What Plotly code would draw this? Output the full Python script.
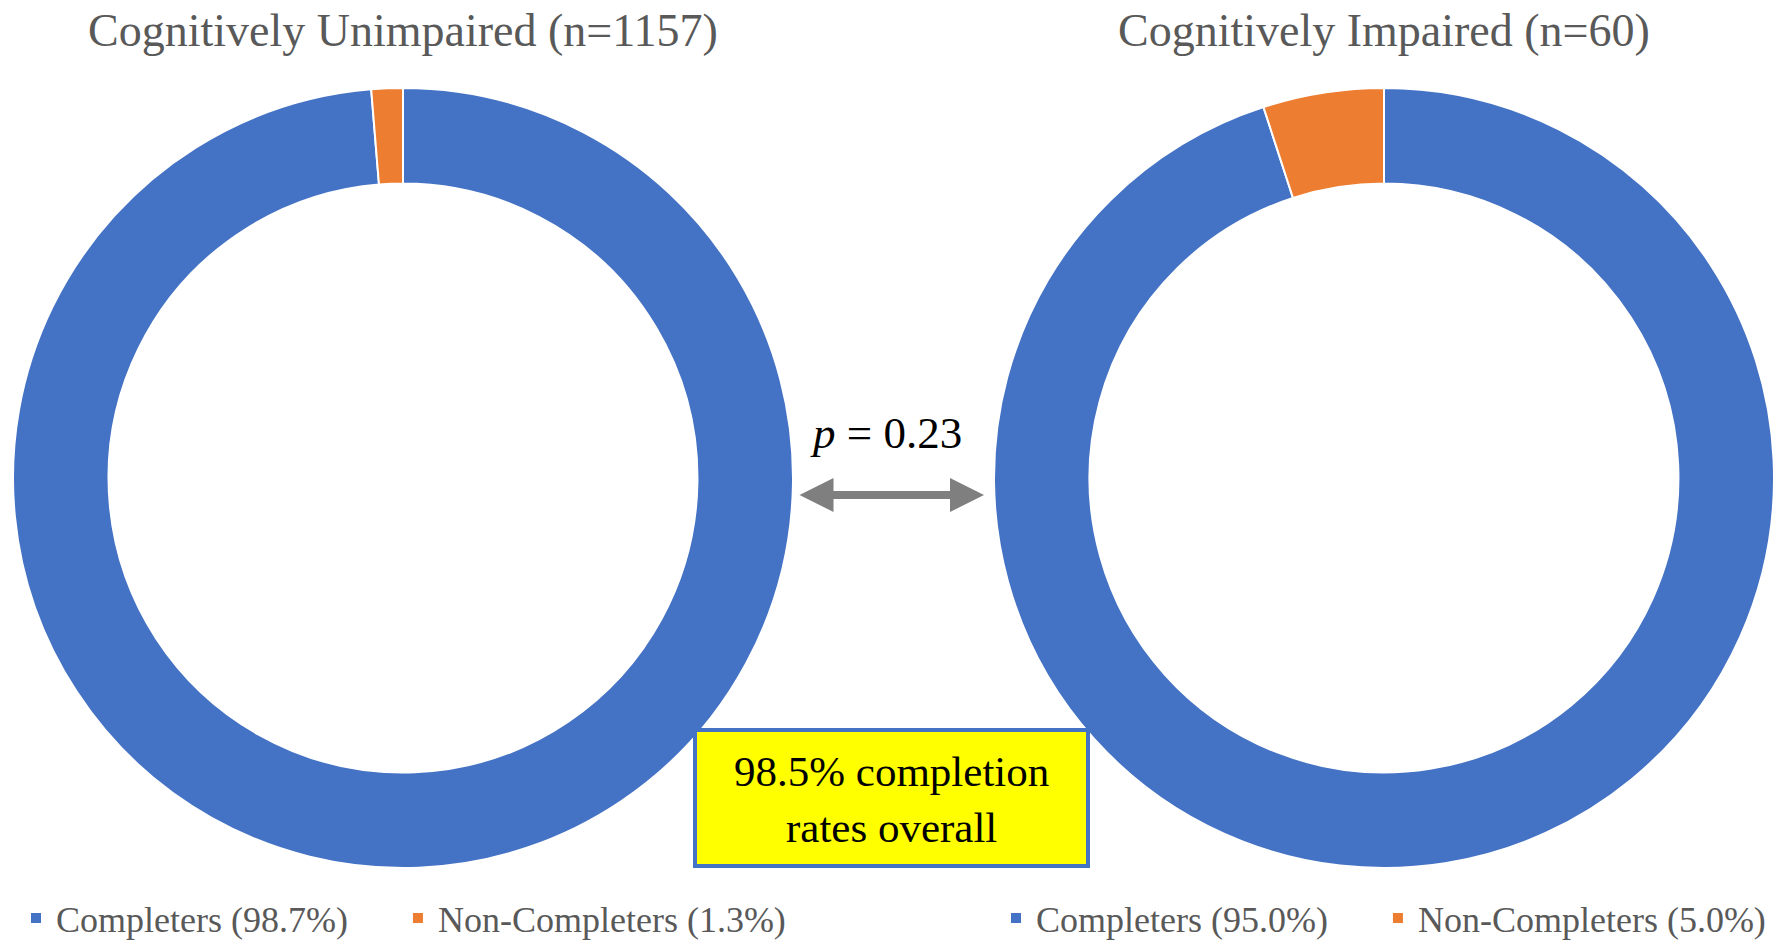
import plotly.graph_objects as go

W, H = 1777, 944

# ---- data ----
groups = ["Cognitively Unimpaired (n=1157)", "Cognitively Impaired (n=60)"]
categories = ["Completers", "Non-Completers"]
unimpaired_pct = [98.7, 1.3]
impaired_pct = [95.0, 5.0]
colors = ["#4472C4", "#ED7D31"]
p_value_text = "<i>p</i> = 0.23"
overall_text = "98.5% completion<br>rates overall"

def px_x(x):
    return x / W

def px_y(y):
    return 1 - y / H

NB = "\u00a0"

def labels_for(vals):
    out = []
    for k, (c, v) in enumerate(zip(categories, vals)):
        lab = f"{c} ({v:.1f}%)"
        if k == 0:
            lab += NB * 5  # spacing between legend entries
        out.append(lab)
    return out

R = 390
centers = [(403, 478), (1384, 478)]

def dom(cx, cy):
    return dict(x=[px_x(cx - R), px_x(cx + R)], y=[px_y(cy + R), px_y(cy - R)])

fig = go.Figure()
for i, (vals, leg) in enumerate([(unimpaired_pct, "legend"), (impaired_pct, "legend2")]):
    fig.add_trace(go.Pie(
        labels=labels_for(vals), values=vals, hole=0.755, sort=False,
        direction="clockwise", rotation=0, textinfo="none",
        marker=dict(colors=colors, line=dict(color="white", width=2)),
        domain=dom(*centers[i]), legend=leg, showlegend=True,
    ))

legfont = dict(family="Liberation Serif, Times New Roman, serif", size=36, color="#595959")
common_leg = dict(orientation="h", xanchor="left", yanchor="middle", font=legfont,
                  bgcolor="rgba(0,0,0,0)",
                  itemclick=False, itemdoubleclick=False, traceorder="normal")

fig.update_layout(
    width=W, height=H, margin=dict(l=0, r=0, t=0, b=0, autoexpand=False),
    paper_bgcolor="white", plot_bgcolor="white",
    legend=dict(x=px_x(16), y=px_y(918), **common_leg),
    legend2=dict(x=px_x(996), y=px_y(918), **common_leg),
)

titlefont = dict(family="Liberation Serif, Times New Roman, serif", size=46, color="#595959")
for g, (cx, cy) in zip(groups, centers):
    fig.add_annotation(x=px_x(cx), y=px_y(31), xref="paper", yref="paper",
                       text=g, showarrow=False, font=titlefont,
                       xanchor="center", yanchor="middle")

# p-value
fig.add_annotation(x=px_x(886), y=px_y(433), xref="paper", yref="paper",
                   text=p_value_text, showarrow=False,
                   font=dict(family="Liberation Serif, Times New Roman, serif", size=45, color="black"),
                   xanchor="center", yanchor="middle")

# double arrow
fig.add_annotation(x=px_x(984), y=px_y(495), xref="paper", yref="paper",
                   ax=-186, ay=0, axref="pixel", ayref="pixel",
                   text="", showarrow=True, arrowhead=2, arrowside="end+start",
                   arrowsize=0.85, arrowwidth=8, arrowcolor="#7F7F7F", standoff=0, startstandoff=0)

# yellow box
fig.add_shape(type="rect", xref="paper", yref="paper",
              x0=px_x(695), x1=px_x(1088), y0=px_y(866), y1=px_y(730),
              fillcolor="#FFFF00", line=dict(color="#4472C4", width=4), layer="above")
fig.add_annotation(x=px_x(891), y=px_y(799), xref="paper", yref="paper",
                   text=overall_text, showarrow=False,
                   font=dict(family="Liberation Serif, Times New Roman, serif", size=43, color="black"),
                   xanchor="center", yanchor="middle", align="center")

fig.write_html("out.html", config={"displayModeBar": False},
               post_script="document.body.style.margin='0';document.body.style.overflow='hidden';")
